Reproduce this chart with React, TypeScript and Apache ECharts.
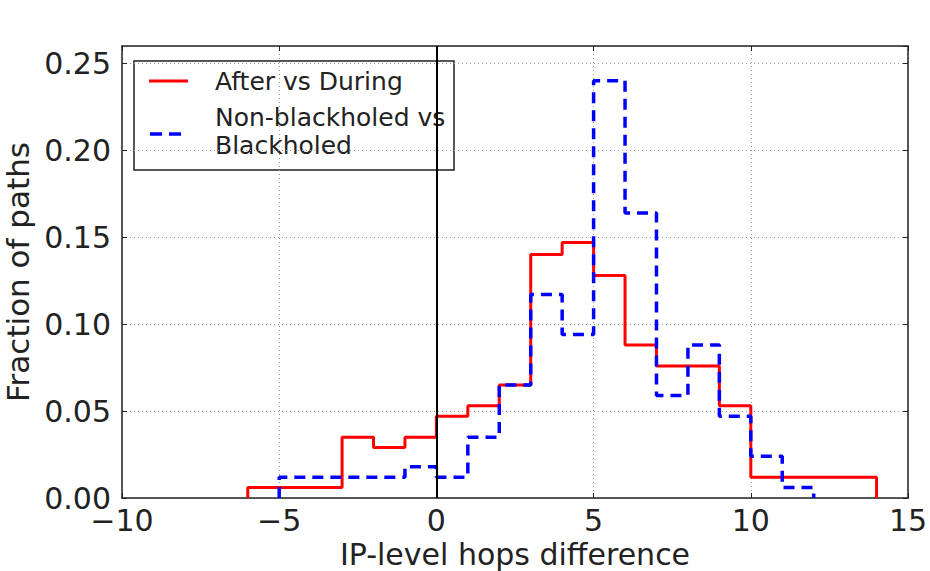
import React, { useEffect, useRef } from "react";
import * as echarts from "echarts";

// Histogram bins (width 1)
const binWidth = 1;
const afterStart = -6;
const afterValues = [
  0.006, 0.006, 0.006, 0.035, 0.029, 0.035, 0.047, 0.053, 0.065, 0.140,
  0.147, 0.128, 0.088, 0.076, 0.076, 0.053, 0.012, 0.012, 0.012, 0.012,
];
const blackStart = -5;
const blackValues = [
  0.012, 0.012, 0.012, 0.012, 0.018, 0.012, 0.035, 0.065, 0.117, 0.094,
  0.240, 0.164, 0.059, 0.088, 0.047, 0.024, 0.006,
];

const seriesNames = ["After vs During", "Non-blackholed vs\nBlackholed"];
const xLabel = "IP-level hops difference";
const yLabel = "Fraction of paths";
const xMin = -10;
const xMax = 15;
const xInterval = 5;
const yMin = 0;
const yMax = 0.26;
const yInterval = 0.05;
const refLineX = 0;

const FONT = "DejaVu Sans";
const INK = "#222";

function stepData(start: number, values: number[]): number[][] {
  const pts: number[][] = [[start, 0]];
  values.forEach((v, i) => pts.push([start + i * binWidth, v]));
  pts.push([start + values.length * binWidth, 0]);
  return pts;
}

const fmtX = (v: number) => (v < 0 ? "\u2212" + Math.abs(v) : String(v));
const fmtY = (v: number) =>
  Math.abs(v / yInterval - Math.round(v / yInterval)) < 1e-6 ? v.toFixed(2) : "";

export default function App() {
  const ref = useRef<HTMLDivElement>(null);
  useEffect(() => {
    if (!ref.current) return;
    const chart = echarts.init(ref.current, undefined, { renderer: "svg" });
    const frameLine = { show: true, onZero: false, lineStyle: { color: INK, width: 1.5 } };
    const tick = { show: true, inside: true, length: 5, lineStyle: { color: INK, width: 1 } };
    const grid = { show: true, lineStyle: { color: "#999", type: [1, 3], width: 1 } };
    chart.setOption({
      animation: false,
      backgroundColor: "#fff",
      textStyle: { fontFamily: FONT },
      grid: { left: 122, right: 22, top: 46, bottom: 73, containLabel: false, outerBoundsMode: "none" },
      xAxis: [
        {
          type: "value",
          min: xMin,
          max: xMax,
          interval: xInterval,
          position: "bottom",
          name: xLabel,
          nameLocation: "middle",
          nameGap: 32,
          nameTextStyle: { fontSize: 30, color: INK, fontFamily: FONT },
          axisLine: frameLine,
          axisTick: tick,
          axisLabel: { fontSize: 30, color: INK, margin: 7, formatter: fmtX, fontFamily: FONT },
          splitLine: grid,
        },
        {
          type: "value",
          min: xMin,
          max: xMax,
          interval: xInterval,
          position: "top",
          axisLine: frameLine,
          axisTick: tick,
          axisLabel: { show: false },
          splitLine: { show: false },
        },
      ],
      yAxis: [
        {
          type: "value",
          min: yMin,
          max: yMax,
          interval: yInterval,
          position: "left",
          name: yLabel,
          nameLocation: "middle",
          nameGap: 87,
          nameTextStyle: { fontSize: 31, color: INK, fontFamily: FONT },
          axisLine: frameLine,
          axisTick: tick,
          axisLabel: { fontSize: 30, color: INK, margin: 11, formatter: fmtY, fontFamily: FONT, showMaxLabel: false },
          splitLine: grid,
        },
        {
          type: "value",
          min: yMin,
          max: yMax,
          interval: yInterval,
          position: "right",
          axisLine: frameLine,
          axisTick: tick,
          axisLabel: { show: false },
          splitLine: { show: false },
        },
      ],
      series: [
        {
          name: seriesNames[0],
          type: "line",
          step: "end",
          showSymbol: false,
          symbol: "none",
          data: stepData(afterStart, afterValues),
          lineStyle: { color: "#ff0000", width: 3 },
          z: 3,
          markLine: {
            silent: true,
            symbol: ["none", "none"],
            label: { show: false },
            lineStyle: { color: "#000", width: 2, type: "solid" },
            data: [{ xAxis: refLineX }],
          },
        },
        {
          name: seriesNames[1],
          type: "line",
          step: "end",
          showSymbol: false,
          symbol: "none",
          data: stepData(blackStart, blackValues),
          lineStyle: { color: "#0000ff", width: 3.5, type: [11, 7], cap: "butt" },
          z: 4,
        },
      ],
      graphic: [
        {
          type: "group",
          z: 100,
          children: [
            {
              type: "rect",
              shape: { x: 134, y: 61, width: 320, height: 109 },
              style: { fill: "#fff", stroke: INK, lineWidth: 1.5 },
            },
            {
              type: "line",
              shape: { x1: 149, y1: 81, x2: 188, y2: 81 },
              style: { stroke: "#ff0000", lineWidth: 3 },
            },
            {
              type: "line",
              shape: { x1: 150, y1: 134, x2: 181, y2: 134 },
              style: { stroke: "#0000ff", lineWidth: 3.5, lineDash: [12, 7] },
            },
            {
              type: "text",
              x: 215,
              y: 81,
              style: {
                text: seriesNames[0],
                fontSize: 25,
                fontFamily: FONT,
                fill: INK,
                align: "left",
                verticalAlign: "middle",
              },
            },
            {
              type: "text",
              x: 215,
              y: 131,
              style: {
                text: seriesNames[1],
                fontSize: 25,
                lineHeight: 28,
                fontFamily: FONT,
                fill: INK,
                align: "left",
                verticalAlign: "middle",
              },
            },
          ],
        },
      ],
    });
    return () => chart.dispose();
  }, []);
  return (
    <div
      ref={ref}
      style={{ position: "fixed", left: 0, top: 0, width: 930, height: 571, background: "#fff" }}
    />
  );
}
